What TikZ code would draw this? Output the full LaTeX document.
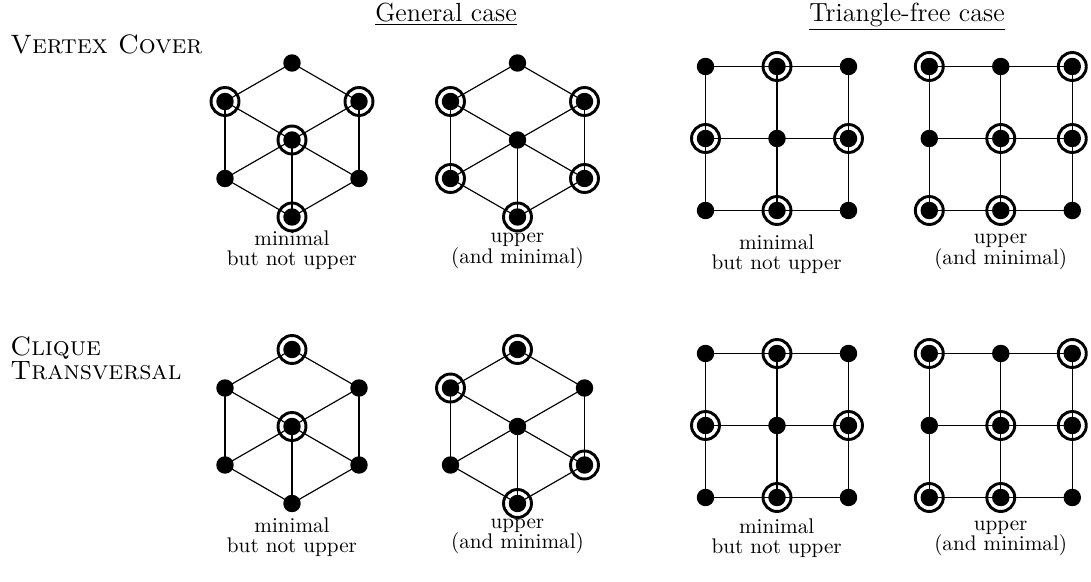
\documentclass[tikz,border=0pt]{standalone}
\begin{document}
\begin{tikzpicture}[x=0.515pt,y=-0.515pt,
  vtx/.style={circle,fill=black,inner sep=0pt,minimum size=9pt},
  ringnode/.style={circle,draw=black,line width=1.5pt,inner sep=0pt,minimum size=14.4pt},
  edge/.style={line width=0.6pt},
  lbl/.style={align=center,font=\fontsize{10.9}{10.4}\selectfont,inner sep=0pt},
  head/.style={anchor=base,inner sep=0pt,font=\fontsize{13.5}{16}\selectfont}]
\useasboundingbox (0,0) rectangle (1091,582);

\newcommand\hexgraph[4]{%
  \node[vtx] (#1t)  at (#2,#3-77) {};
  \node[vtx] (#1ul) at (#2-67,#3-38.5) {};
  \node[vtx] (#1ur) at (#2+67,#3-38.5) {};
  \node[vtx] (#1c)  at (#2,#3) {};
  \node[vtx] (#1ll) at (#2-67,#3+38.5) {};
  \node[vtx] (#1lr) at (#2+67,#3+38.5) {};
  \node[vtx] (#1b)  at (#2,#3+77) {};
  \foreach \a/\b in {t/ul,t/ur,ul/c,ur/c,ul/ll,ur/lr,c/ll,c/lr,c/b,ll/b,lr/b}
    \draw[edge] (#1\a.center) -- (#1\b.center);
  \foreach \s in {#4} \node[ringnode] (#1\s-ring) at (#1\s) {};
}
\newcommand\gridgraph[5]{%
  \foreach \i in {1,2,3} \foreach \j in {1,2,3}
    \node[vtx] (#1\i\j) at ({#2+(\j-1)*71.5},{#3+(\i-1)*#4}) {};
  \foreach \i in {1,2,3} {
    \draw[edge] (#1\i1.center) -- (#1\i2.center) -- (#1\i3.center);
    \draw[edge] (#11\i.center) -- (#12\i.center) -- (#13\i.center);
  }
  \foreach \s in {#5} \node[ringnode] (#1\s-ring) at (#1\s) {};
}

% headings
\node[head] (h1) at (446,21) {\underline{General case}};
\node[head] (h2) at (907,21) {\underline{Triangle-free case}};
\node[anchor=west,inner sep=0pt,font=\fontsize{13.7}{16}\selectfont] (r1) at (10,44) {\textsc{Vertex Cover}};
\node[anchor=west,align=left,inner sep=0pt,font=\fontsize{13.7}{12.4}\selectfont] (r2) at (10,358) {\textsc{Clique}\\\textsc{Transversal}};

% graphs
\hexgraph{A}{292}{140}{ul,ur,c,b}
\hexgraph{B}{517.5}{140}{ul,ur,ll,lr,b}
\hexgraph{C}{292}{426.5}{t,c}
\hexgraph{D}{517.5}{426.5}{t,ul,lr,b}
\gridgraph{E}{705.5}{66.5}{72}{12,21,23,32}
\gridgraph{F}{929.3}{66.5}{72}{11,13,22,23,31,32}
\gridgraph{G}{705.5}{353.5}{72}{12,21,23,32}
\gridgraph{H}{929.3}{353.5}{72}{11,13,22,23,31,32}

% labels
\node[lbl] (la) at (292,250) {minimal\\but not upper};
\node[lbl] (lb) at (517.5,251) {upper\\(and minimal)};
\node[lbl] (le) at (776.7,254) {minimal\\but not upper};
\node[lbl] (lf) at (1000.7,252) {upper\\(and minimal)};
\node[lbl] (lc) at (292,537) {minimal\\but not upper};
\node[lbl] (ld) at (517.5,536) {upper\\(and minimal)};
\node[lbl] (lg) at (776.7,538) {minimal\\but not upper};
\node[lbl] (lh) at (1000.7,538) {upper\\(and minimal)};
\end{tikzpicture}
\end{document}
